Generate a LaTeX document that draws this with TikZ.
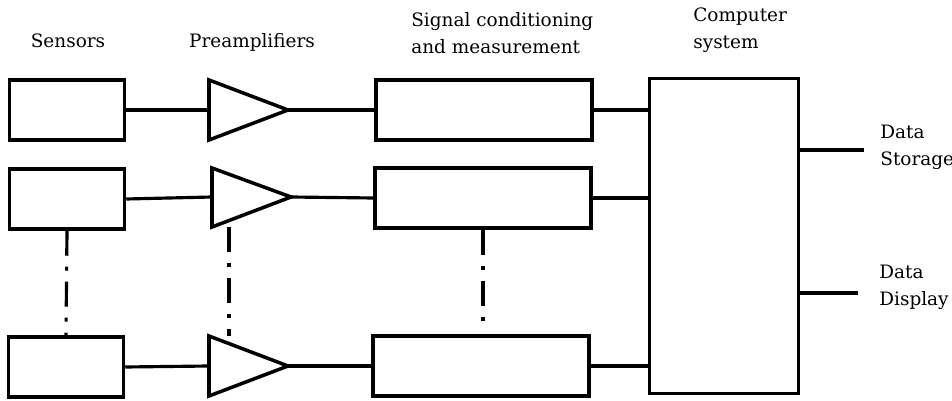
\documentclass[tikz,border=0pt]{standalone}
\usepackage{fontspec}
\setmainfont{DejaVu Serif}
\usepackage{tikz}
\usetikzlibrary{calc, positioning}
\tikzset{
    blk/.style={draw, line width=2pt, minimum height=1.2cm, inner sep=0pt},
    wire/.style={line width=1.8pt},
    dotdash/.style={line width=1.8pt, dash pattern=on 0.5cm off 0.22cm on 0.08cm off 0.22cm},
    lbl/.style={font=\fontsize{10.5}{15.5}\selectfont, align=left, inner sep=0pt}
}

\begin{document}
\begin{tikzpicture}[x=0.02cm, y=-0.02cm]
        \useasboundingbox (0,0) rectangle (952,401);

        \node [lbl] (lsens) at (68,41) {Sensors};
        \node [lbl] (lamp) at (252,42) {Preamplifiers};
        \node [lbl, anchor=west] (lsig) at (411,33) {Signal conditioning\\and measurement};
        \node [lbl, anchor=west] (lcomp) at (693,30) {Computer\\system};
        \node [lbl, anchor=west] (lstore) at (880,147) {Data\\Storage};
        \node [lbl, anchor=west] (ldisp) at (879,287) {Data\\Display};

        \node [blk, minimum width=2.3cm] (s1) at (67,110) {};
        \node [blk, minimum width=2.3cm] (s2) at (67,199) {};
        \node [blk, minimum width=2.3cm] (s3) at (66,367) {};

        \node [blk, minimum width=4.32cm] (c1) at (484,110) {};
        \node [blk, minimum width=4.32cm] (c2) at (483,198) {};
        \node [blk, minimum width=4.32cm] (c3) at (481,366) {};

        \node [blk, minimum width=2.98cm, minimum height=6.3cm] (pc) at (724,236) {};

        \draw [wire, line width=2pt, line join=miter] (209,80) -- (288,110) -- (209,140) -- cycle;
        \draw [wire, line width=2pt, line join=miter] (212,168) -- (291,197) -- (212,227) -- cycle;
        \draw [wire, line width=2pt, line join=miter] (209,336) -- (288,366) -- (209,396) -- cycle;
        \coordinate (a1in) at (209,110); \coordinate (a1out) at (288,110);
        \coordinate (a2in) at (212,197); \coordinate (a2out) at (291,197);
        \coordinate (a3in) at (209,366); \coordinate (a3out) at (288,366);
        \coordinate (a2bot) at (229,227); \coordinate (a3top) at (229,336);

        \draw [wire] (s1.east) -- (a1in);
        \draw [wire] (s2.east) -- (a2in);
        \draw [wire] (s3.east) -- (a3in);
        \draw [wire] (a1out) -- (c1.west);
        \draw [wire] (a2out) -- (c2.west);
        \draw [wire] (a3out) -- (c3.west);
        \draw [wire] (c1.east) -- (c1.east -| pc.west);
        \draw [wire] (c2.east) -- (c2.east -| pc.west);
        \draw [wire] (c3.east) -- (c3.east -| pc.west);

        \coordinate (ostore) at (864,150);
        \coordinate (odisp) at (858,293);
        \draw [wire] (ostore -| pc.east) -- (ostore);
        \draw [wire] (odisp -| pc.east) -- (odisp);

        \draw [dotdash] (s2.south) -- (s3.north);
        \draw [dotdash] (a2bot) -- (a3top);
        \draw [dotdash] (c2.south) -- ($(c3.north)+(2,-8)$);
    \end{tikzpicture}
\end{document}
